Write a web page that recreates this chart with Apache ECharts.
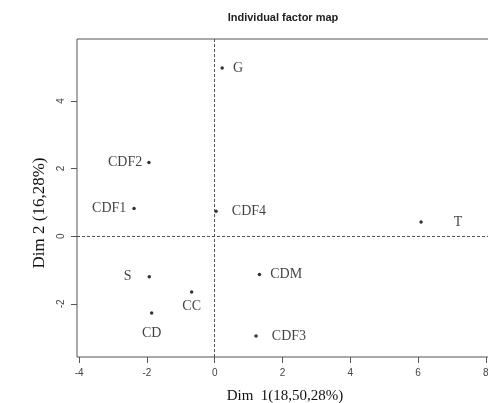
<!DOCTYPE html>
<html><head><meta charset="utf-8">
<script src="https://cdn.jsdelivr.net/npm/echarts@6/dist/echarts.min.js"></script>
<style>html,body{margin:0;padding:0;background:#fff}#c{width:488px;height:403px}</style>
</head><body><div id="c"></div>
<script>
const names = ["G","CDF2","CDF1","CDF4","T","S","CC","CD","CDM","CDF3"];
const dim1 = [0.22,-1.94,-2.38,0.04,6.09,-1.93,-0.68,-1.86,1.32,1.22];
const dim2 = [4.97,2.18,0.82,0.74,0.42,-1.20,-1.65,-2.27,-1.13,-2.95];
const xTicks = [-4,-2,0,2,4,6,8];
const yTicks = [-2,0,2,4];

const labelPos = {G:['right',9],CDF2:['left',5],CDF1:['left',6],CDF4:['right',14],T:['right',31],S:['left',16],CC:['bottom',6],CD:['bottom',12],CDM:['right',9],CDF3:['right',14]};

const chart = echarts.init(document.getElementById('c'), null, {renderer:'canvas'});
const data = names.map((n,i)=>({
  value:[dim1[i],dim2[i]], name:n,
  label:{show:true, formatter:n, position:labelPos[n][0], distance:labelPos[n][1]}
}));
chart.setOption({
  animation:false,
  title:{text:'Individual factor map', left:278, top:7, textAlign:'center',
    textStyle:{fontFamily:'Liberation Sans, Arial, sans-serif', fontSize:11, fontWeight:'bold', color:'#222'}},
  grid:{left:77, top:39, width:420, height:318, show:true, borderColor:'#555', borderWidth:1, outerBoundsMode:'none', containLabel:false},
  xAxis:{type:'value', min:-4.063, max:8.33,
    name:'Dim  1(18,50,28%)', nameLocation:'middle', nameGap:32,
    nameTextStyle:{fontFamily:'Liberation Serif, Times New Roman, serif', fontSize:15, color:'#111', padding:[0,0,0,-4]},
    splitLine:{show:false}, axisLine:{show:false, onZero:false},
    axisTick:{show:true, inside:false, length:6, customValues:xTicks, lineStyle:{color:'#555'}},
    axisLabel:{customValues:xTicks, fontFamily:'Liberation Sans, Arial, sans-serif', fontSize:10, color:'#444', margin:11}
  },
  yAxis:{type:'value', min:-3.57, max:5.83,
    name:'Dim 2 (16,28%)', nameLocation:'middle', nameGap:27, nameRotate:90,
    nameTextStyle:{fontFamily:'Liberation Serif, Times New Roman, serif', fontSize:17, color:'#111', padding:[0,30,0,0]},
    splitLine:{show:false}, axisLine:{show:false, onZero:false},
    axisTick:{show:true, inside:false, length:6, customValues:yTicks, lineStyle:{color:'#555'}},
    axisLabel:{customValues:yTicks, rotate:90, fontFamily:'Liberation Sans, Arial, sans-serif', fontSize:10, color:'#444', margin:11}
  },
  series:[{
    type:'scatter', data:data, symbol:'circle', symbolSize:3.5,
    itemStyle:{color:'#000'},
    label:{fontFamily:'Liberation Serif, Times New Roman, serif', fontSize:14, color:'#111'},
    markLine:{silent:true, symbol:'none', label:{show:false},
      lineStyle:{type:[3,2], color:'#555', width:1},
      data:[{xAxis:0},{yAxis:0}]}
  }]
});
</script></body></html>
